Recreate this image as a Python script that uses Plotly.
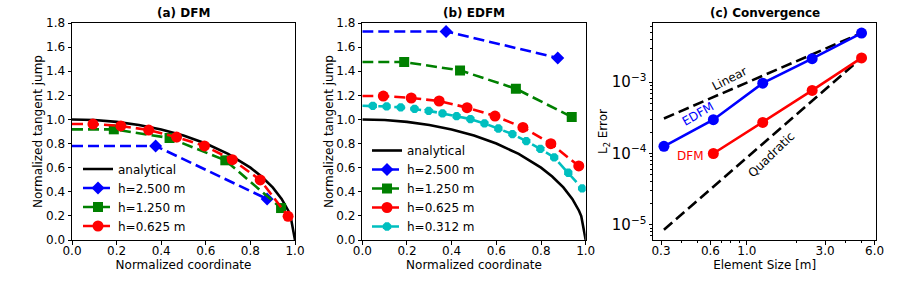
import plotly.graph_objects as go

# ---------------- data ----------------
x_analytical = [0.0, 0.1, 0.2, 0.3, 0.4, 0.5, 0.6, 0.7, 0.8, 0.85, 0.9, 0.94, 0.97, 0.98, 1.0]
y_analytical = [1.0, 0.995, 0.98, 0.954, 0.917, 0.866, 0.8, 0.714, 0.6, 0.527, 0.436, 0.341, 0.243, 0.199, 0.0]

x_h2500 = [0.0, 0.375, 0.875]
x_h1250 = [0.0, 0.1875, 0.4375, 0.6875, 0.9375]
x_h0625 = [0.0, 0.094, 0.219, 0.344, 0.469, 0.594, 0.719, 0.844, 0.969]
x_h0312 = [0.0, 0.047, 0.109, 0.172, 0.234, 0.297, 0.359, 0.422, 0.484, 0.547,
           0.609, 0.672, 0.734, 0.797, 0.859, 0.922, 0.984]

dfm_h2500 = [0.78, 0.78, 0.34]
dfm_h1250 = [0.918, 0.918, 0.846, 0.661, 0.265]
dfm_h0625 = [0.962, 0.962, 0.946, 0.912, 0.854, 0.78, 0.666, 0.498, 0.196]

edfm_h2500 = [1.73, 1.73, 1.51]
edfm_h1250 = [1.476, 1.476, 1.407, 1.255, 1.02]
edfm_h0625 = [1.194, 1.194, 1.178, 1.153, 1.098, 1.028, 0.934, 0.799, 0.614]
edfm_h0312 = [1.113, 1.113, 1.108, 1.100, 1.088, 1.071, 1.050, 1.027, 1.003, 0.967,
              0.925, 0.878, 0.820, 0.756, 0.685, 0.558, 0.428]

size_edfm = [0.3125, 0.625, 1.25, 2.5, 5.0]
l2_edfm = [1.26e-4, 2.98e-4, 9.7e-4, 2.14e-3, 4.9e-3]
size_dfm = [0.625, 1.25, 2.5, 5.0]
l2_dfm = [1.0e-4, 2.73e-4, 7.66e-4, 2.19e-3]
ref_size = [0.3125, 5.0]
linear_ref = [3.1e-4, 4.9e-3]
quadratic_ref = [8.5e-6, 2.19e-3]

labels_h = ["h=2.500 m", "h=1.250 m", "h=0.625 m", "h=0.312 m"]
x_ticks_c = [0.3, 0.6, 1.0, 3.0, 6.0]
x_ticktext_c = ["0.3", "0.6", "1.0", "3.0", "6.0"]

# ---------------- styles ----------------
FONT = "DejaVu Sans"
FS = 12
BLUE, GREEN, RED, CYAN = "#0000ff", "#008000", "#ff0000", "#00bfbf"
DASH = "11px,5px"
LW = 2.6

fig = go.Figure()

def add_series(xs, ys, color, symbol, msize, name, xa, ya, legend):
    fig.add_trace(go.Scatter(x=xs, y=ys, mode="lines", xaxis=xa, yaxis=ya,
                             line=dict(color=color, width=LW, dash=DASH),
                             showlegend=False, hoverinfo="skip"))
    fig.add_trace(go.Scatter(x=xs[1:], y=ys[1:], mode="markers", xaxis=xa, yaxis=ya,
                             marker=dict(color=color, symbol=symbol, size=msize, line=dict(width=0)),
                             showlegend=False))
    fig.add_trace(go.Scatter(x=[None], y=[None], mode="lines+markers", xaxis=xa, yaxis=ya,
                             line=dict(color=color, width=LW, dash=DASH),
                             marker=dict(color=color, symbol=symbol, size=msize, line=dict(width=0)),
                             name=name, legend=legend, showlegend=True))

# Panel (a)
fig.add_trace(go.Scatter(x=x_analytical, y=y_analytical, mode="lines", xaxis="x", yaxis="y",
                         line=dict(color="black", width=LW), name="analytical", legend="legend"))
add_series(x_h2500, dfm_h2500, BLUE, "diamond", 10, labels_h[0], "x", "y", "legend")
add_series(x_h1250, dfm_h1250, GREEN, "square", 10, labels_h[1], "x", "y", "legend")
add_series(x_h0625, dfm_h0625, RED, "circle", 11, labels_h[2], "x", "y", "legend")

# Panel (b)
fig.add_trace(go.Scatter(x=x_analytical, y=y_analytical, mode="lines", xaxis="x2", yaxis="y2",
                         line=dict(color="black", width=LW), name="analytical", legend="legend2"))
add_series(x_h2500, edfm_h2500, BLUE, "diamond", 10, labels_h[0], "x2", "y2", "legend2")
add_series(x_h1250, edfm_h1250, GREEN, "square", 10, labels_h[1], "x2", "y2", "legend2")
add_series(x_h0625, edfm_h0625, RED, "circle", 11, labels_h[2], "x2", "y2", "legend2")
add_series(x_h0312, edfm_h0312, CYAN, "octagon", 9, labels_h[3], "x2", "y2", "legend2")

# Panel (c)
fig.add_trace(go.Scatter(x=ref_size, y=linear_ref, mode="lines", xaxis="x3", yaxis="y3",
                         line=dict(color="black", width=LW, dash=DASH), showlegend=False))
fig.add_trace(go.Scatter(x=ref_size, y=quadratic_ref, mode="lines", xaxis="x3", yaxis="y3",
                         line=dict(color="black", width=LW, dash=DASH), showlegend=False))
fig.add_trace(go.Scatter(x=size_edfm, y=l2_edfm, mode="lines+markers", xaxis="x3", yaxis="y3",
                         line=dict(color=BLUE, width=LW),
                         marker=dict(color=BLUE, size=11), showlegend=False))
fig.add_trace(go.Scatter(x=size_dfm, y=l2_dfm, mode="lines+markers", xaxis="x3", yaxis="y3",
                         line=dict(color=RED, width=LW),
                         marker=dict(color=RED, size=11), showlegend=False))

# ---------------- layout ----------------
W, H = 904, 283
ML, MR, MT, MB = 72, 28, 23, 43
PW = W - ML - MR
PH = H - MT - MB
def px_x(p):
    return (p - ML) / PW
def px_y(p):
    return (H - MB - p) / PH

axis_common = dict(showline=True, linecolor="black", linewidth=1, mirror=True,
                   ticks="outside", ticklen=3.5, tickwidth=1, tickcolor="black",
                   showgrid=False, zeroline=False,
                   tickfont=dict(family=FONT, size=FS, color="black"))
title_font = dict(family=FONT, size=FS, color="black")

lin_x = dict(range=[0, 1], dtick=0.2, tick0=0, tickformat=".1f", ticklabelstandoff=-4, **axis_common)
lin_y = dict(range=[0, 1.8], dtick=0.2, tick0=0, tickformat=".1f", **axis_common)

legend_common = dict(xanchor="left", yanchor="middle", bgcolor="rgba(0,0,0,0)",
                     font=dict(family=FONT, size=FS, color="black"),
                     tracegroupgap=0, itemwidth=30)

fig.update_layout(
    width=W, height=H,
    margin=dict(l=ML, r=MR, t=MT, b=MB),
    plot_bgcolor="white", paper_bgcolor="white",
    font=dict(family=FONT, size=FS, color="black"),
    xaxis=dict(domain=[0, px_x(295)], anchor="y",
               title=dict(text="Normalized coordinate", font=title_font, standoff=0), **lin_x),
    yaxis=dict(domain=[0, 1], anchor="x",
               title=dict(text="Normalized tangent jump", font=title_font, standoff=0), **lin_y),
    xaxis2=dict(domain=[px_x(362.3), px_x(585.7)], anchor="y2",
                title=dict(text="Normalized coordinate", font=title_font, standoff=0), **lin_x),
    yaxis2=dict(domain=[0, 1], anchor="x2",
                title=dict(text="Normalized tangent jump", font=title_font, standoff=0), **lin_y),
    xaxis3=dict(domain=[px_x(653.3), 1.0], anchor="y3", type="log",
                range=[-0.570, 0.787], tickmode="array", tickvals=x_ticks_c, ticktext=x_ticktext_c,
                ticklabelstandoff=-4,
                minor=dict(ticks="outside", ticklen=2, tickcolor="black", dtick="D1", showgrid=False),
                title=dict(text="Element Size [m]", font=title_font, standoff=0), **axis_common),
    yaxis3=dict(domain=[0, 1], anchor="x3", type="log",
                range=[-5.214, -2.169], dtick=1, exponentformat="power",
                minor=dict(ticks="outside", ticklen=2, tickcolor="black", dtick="D1", showgrid=False),
                title=dict(text="L<sub>2</sub> Error", font=title_font, standoff=0), **axis_common),
    legend=dict(x=px_x(78), y=px_y(197.5), **legend_common),
    legend2=dict(x=px_x(367), y=px_y(188.5), **legend_common),
)

def ann_fig(px, py, text, color="black", angle=0, bold=False, size=FS):
    fig.add_annotation(x=px_x(px), y=px_y(py), xref="paper", yref="paper",
                       text=f"<b>{text}</b>" if bold else text, showarrow=False,
                       textangle=angle, font=dict(family=FONT, size=size, color=color),
                       xanchor="center", yanchor="middle")

ann_fig(183.5, 13, "(a) DFM", bold=True)
ann_fig(474, 13, "(b) EDFM", bold=True)
ann_fig(764.5, 13, "(c) Convergence", bold=True)
ann_fig(729, 79, "Linear", angle=-27)
ann_fig(698, 114, "EDFM", color=BLUE, angle=-30)
ann_fig(690, 156, "DFM", color=RED)
ann_fig(771, 155, "Quadratic", angle=-44)

fig.write_html("out.html", config={"displayModeBar": False},
               post_script="document.body.style.margin='0';document.body.style.overflow='hidden';")
